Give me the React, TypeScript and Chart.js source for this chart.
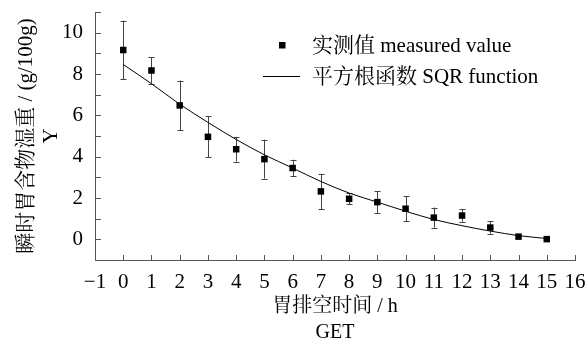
import React, { useEffect, useRef } from 'react';
import { Chart, registerables } from 'chart.js';

Chart.register(...registerables);

// ---- data ----
const timeHours = [0, 1, 2, 3, 4, 5, 6, 7, 8, 9, 10, 11, 12, 13, 14, 15];
const measuredValues = [9.16, 8.17, 6.48, 4.96, 4.36, 3.88, 3.45, 2.32, 1.96, 1.8, 1.48, 1.05, 1.15, 0.57, 0.13, 0.01];
const errorValues = [1.42, 0.64, 1.2, 1.0, 0.6, 0.94, 0.4, 0.85, 0.27, 0.52, 0.6, 0.49, 0.3, 0.3, 0, 0];
const fitHours = [0, 1, 2, 3, 4, 5, 6, 7, 8, 9, 10, 11, 12, 13, 14, 15];
const fitValues = [8.46, 7.53, 6.54, 5.66, 4.83, 4.09, 3.45, 2.8, 2.24, 1.8, 1.36, 0.96, 0.66, 0.4, 0.18, 0.04];
const yLabelValues = [0, 2, 4, 6, 8, 10];
const legendLabels = ['实测值 measured value', '平方根函数 SQR function'];
const xTitle = ['胃排空时间 / h', 'GET'];
const yTitle = ['瞬时胃含物湿重 / (g/100g)', 'Y'];
const xRange = [-1, 16];
const yRange = [-1, 11];

const FONT = "'Liberation Serif', 'Noto Serif CJK SC', 'Noto Sans CJK SC', serif";
const AXIS_COLOR = '#555';

export default function App() {
  const canvasRef = useRef<HTMLCanvasElement | null>(null);

  useEffect(() => {
    const canvas = canvasRef.current;
    if (!canvas) return;

    const errorBarPlugin = {
      id: 'errorBars',
      beforeDatasetsDraw(chart: any) {
        const { ctx, scales } = chart;
        const xs = scales.x;
        const ys = scales.y;
        ctx.save();
        ctx.strokeStyle = '#444';
        ctx.lineWidth = 1;
        timeHours.forEach((t, i) => {
          const e = errorValues[i];
          if (!e) return;
          const px = Math.round(xs.getPixelForValue(t)) + 0.5;
          const top = ys.getPixelForValue(measuredValues[i] + e);
          const bot = ys.getPixelForValue(measuredValues[i] - e);
          ctx.beginPath();
          ctx.moveTo(px, top);
          ctx.lineTo(px, bot);
          ctx.moveTo(px - 3, Math.round(top) + 0.5);
          ctx.lineTo(px + 3, Math.round(top) + 0.5);
          ctx.moveTo(px - 3, Math.round(bot) + 0.5);
          ctx.lineTo(px + 3, Math.round(bot) + 0.5);
          ctx.stroke();
        });
        ctx.restore();
      },
    };

    const ticksAndLegendPlugin = {
      id: 'ticksAndLegend',
      afterDraw(chart: any) {
        const { ctx, scales, chartArea } = chart;
        const xs = scales.x;
        const ys = scales.y;
        ctx.save();
        ctx.strokeStyle = AXIS_COLOR;
        ctx.lineWidth = 1;
        ctx.beginPath();
        xs.ticks.forEach((t: any) => {
          const px = Math.round(xs.getPixelForValue(t.value)) + 0.5;
          ctx.moveTo(px, chartArea.bottom);
          ctx.lineTo(px, chartArea.bottom - 5);
        });
        ys.ticks.forEach((t: any) => {
          const py = Math.round(ys.getPixelForValue(t.value)) + 0.5;
          ctx.moveTo(chartArea.left, py);
          ctx.lineTo(chartArea.left + 6, py);
        });
        ctx.stroke();

        // legend
        const labels = chart.data.datasets.map((d: any) => d.label);
        ctx.fillStyle = '#000';
        ctx.font = `21px ${FONT}`;
        ctx.textBaseline = 'middle';
        ctx.textAlign = 'left';
        ctx.fillRect(279, 42, 6.5, 6.5);
        ctx.fillText(labels[0], 312, 46);
        ctx.strokeStyle = '#000';
        ctx.beginPath();
        ctx.moveTo(263, 76.5);
        ctx.lineTo(300, 76.5);
        ctx.stroke();
        ctx.fillText(labels[1], 312, 77);
        ctx.restore();
      },
    };

    const chart = new Chart(canvas, {
      type: 'scatter',
      data: {
        datasets: [
          {
            label: legendLabels[0],
            data: timeHours.map((t, i) => ({ x: t, y: measuredValues[i] })),
            pointStyle: 'rect',
            pointRadius: 4.6,
            backgroundColor: '#000',
            borderWidth: 0,
            showLine: false,
          },
          {
            label: legendLabels[1],
            data: fitHours.map((t, i) => ({ x: t, y: fitValues[i] })),
            showLine: true,
            borderColor: '#000',
            borderWidth: 1,
            pointRadius: 0,
            cubicInterpolationMode: 'monotone',
            fill: false,
          },
        ],
      },
      options: {
        animation: false,
        responsive: false,
        maintainAspectRatio: false,
        layout: { padding: { top: 12, right: 12, left: 0, bottom: 0 } },
        plugins: {
          legend: { display: false },
          tooltip: { enabled: false },
        },
        scales: {
          x: {
            type: 'linear',
            min: xRange[0],
            max: xRange[1],
            grid: { drawOnChartArea: false, drawTicks: false },
            border: { display: true, color: AXIS_COLOR, width: 1 },
            ticks: {
              stepSize: 1,
              autoSkip: false,
              maxRotation: 0,
              padding: 10,
              color: '#000',
              font: { family: FONT, size: 21 },
              callback: (v: any) => (Number(v) < 0 ? '\u2212' + Math.abs(Number(v)) : String(v)),
            },
            title: {
              display: true,
              text: xTitle,
              color: '#000',
              font: { family: FONT, size: 20, lineHeight: 1.3 },
              padding: { top: 0, bottom: -4 },
            },
            afterFit: (scale: any) => {
              scale.height = 82;
              scale.paddingLeft = 0;
              scale.paddingRight = 0;
            },
          },
          y: {
            type: 'linear',
            min: yRange[0],
            max: yRange[1],
            grid: { drawOnChartArea: false, drawTicks: false },
            border: { display: true, color: AXIS_COLOR, width: 1 },
            ticks: {
              stepSize: 1,
              autoSkip: false,
              padding: 12,
              color: '#000',
              font: { family: FONT, size: 21 },
              callback: (v: any) => (yLabelValues.includes(Number(v)) ? String(v) : ''),
            },
            title: {
              display: true,
              text: yTitle,
              color: '#000',
              font: { family: FONT, size: 21, lineHeight: 1.2 },
              padding: { top: 13.4, bottom: 0 },
            },
            afterFit: (scale: any) => {
              scale.width = 95;
              scale.paddingTop = 0;
              scale.paddingBottom = 0;
            },
          },
        },
      } as any,
      plugins: [errorBarPlugin, ticksAndLegendPlugin],
    });

    return () => chart.destroy();
  }, []);

  return (
    <div style={{ position: 'absolute', left: 0, top: 0, width: 587, height: 342, background: '#fff' }}>
      <canvas ref={canvasRef} width={587} height={342} />
    </div>
  );
}
